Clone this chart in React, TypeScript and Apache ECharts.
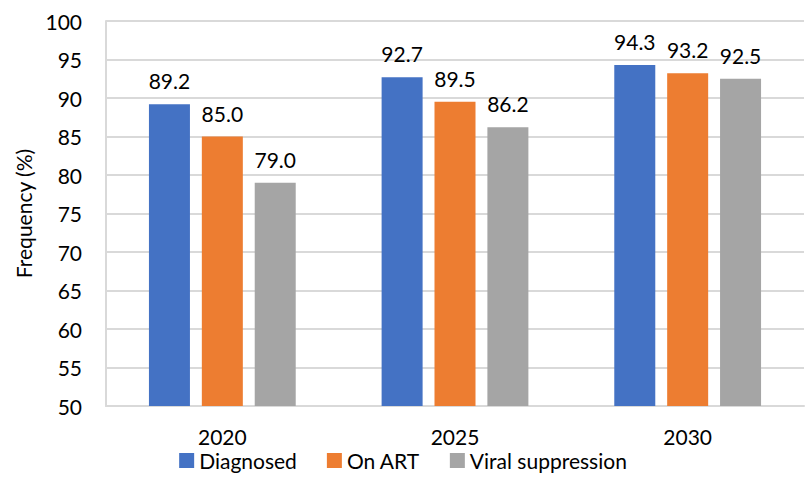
import React, { useEffect, useRef } from "react";
import * as echarts from "echarts";

const categories = ["2020", "2025", "2030"];
const diagnosed = [89.2, 92.7, 94.3];
const onArt = [85.0, 89.5, 93.2];
const viralSuppression = [79.0, 86.2, 92.5];
const seriesNames = ["Diagnosed", "On ART", "Viral suppression"];
const colors = ["#4472C4", "#ED7D31", "#A5A5A5"];

const FONT = "Lato, 'Open Sans', sans-serif";
const FS = 21;

export default function App() {
  const ref = useRef<HTMLDivElement>(null);
  useEffect(() => {
    if (!ref.current) return;
    const chart = echarts.init(ref.current, null, { renderer: "svg" });
    const values = [diagnosed, onArt, viralSuppression];
    chart.setOption({
      animation: false,
      textStyle: { fontFamily: FONT },
      grid: { left: 106, right: 2, top: 21, bottom: 97 },
      legend: {
        bottom: 27,
        left: "center",
        itemWidth: 15,
        itemHeight: 15,
        itemGap: 30,
        icon: "rect",
        textStyle: { fontSize: FS, color: "#000", fontFamily: FONT },
        data: seriesNames,
      },
      xAxis: {
        type: "category",
        data: categories,
        axisLine: { lineStyle: { color: "#D9D9D9", width: 2 } },
        axisTick: { show: false },
        axisLabel: { fontSize: FS, color: "#000", margin: 20, fontFamily: FONT },
      },
      yAxis: {
        type: "value",
        min: 50,
        max: 100,
        interval: 5,
        name: "Frequency (%)",
        nameLocation: "middle",
        nameGap: 72,
        nameTextStyle: { fontSize: FS, color: "#000", fontFamily: FONT },
        axisLine: { show: true, lineStyle: { color: "#D9D9D9", width: 2 } },
        axisTick: { show: false },
        splitLine: { lineStyle: { color: "#D9D9D9", width: 2 } },
        axisLabel: { fontSize: FS, color: "#000", margin: 24, fontFamily: FONT },
      },
      series: seriesNames.map((name, i) => ({
        name,
        type: "bar",
        data: values[i],
        barWidth: 41,
        barGap: "29%",
        itemStyle: { color: colors[i] },
        label: {
          show: true,
          position: "top",
          distance: 13,
          fontSize: FS,
          color: "#000",
          fontFamily: FONT,
          formatter: (p: any) => Number(p.value).toFixed(1),
        },
      })),
    });
    return () => chart.dispose();
  }, []);
  return (
    <div
      ref={ref}
      style={{ position: "fixed", left: 0, top: 0, width: 806, height: 503, background: "#fff" }}
    />
  );
}
